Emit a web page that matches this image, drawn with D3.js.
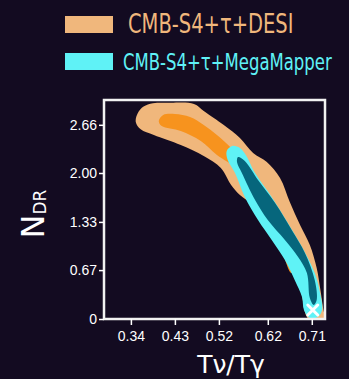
<!DOCTYPE html>
<html>
<head>
<meta charset="utf-8">
<script src="https://cdn.jsdelivr.net/npm/d3@7"></script>
<style>
  html, body { margin: 0; padding: 0; background: #130b21; }
  svg { display: block; font-family: 'DejaVu Sans', sans-serif; }
  .axis text { fill: #fff; font-size: 14px; }
  .axis line { stroke: #fff; stroke-width: 1.5; }
  .axis path { display: none; }
</style>
</head>
<body>
<svg id="chart" width="349" height="379"></svg>
<script>
// ------------------------------------------
//  Data
// ------------------------------------------
const xTicks = [0.34, 0.43, 0.52, 0.62, 0.71]
const xTickLabels = ['0.34', '0.43', '0.52', '0.62', '0.71']
const yTicks = [0, 0.67, 1.33, 2.00, 2.66]
const yTickLabels = ['0', '0.67', '1.33', '2.00', '2.66']

const seriesNames = ['CMB-S4+\u03c4+DESI', 'CMB-S4+\u03c4+MegaMapper']

// DESI, 2 sigma region
const desiOuter = [
  [0.350, 2.700], [0.354, 2.820], [0.366, 2.910], [0.385, 2.955], [0.420, 2.962],
  [0.469, 2.946], [0.489, 2.850], [0.530, 2.658], [0.563, 2.480], [0.590, 2.274],
  [0.618, 2.151], [0.645, 1.932], [0.665, 1.603], [0.686, 1.288], [0.706, 1.014],
  [0.720, 0.699], [0.727, 0.425], [0.733, 0.151], [0.737, -0.05], [0.716, -0.08],
  [0.700, 0.027], [0.694, 0.151], [0.690, 0.329], [0.680, 0.562], [0.665, 0.740],
  [0.645, 0.973], [0.630, 1.151], [0.610, 1.384], [0.590, 1.562], [0.563, 1.699],
  [0.545, 1.836], [0.524, 2.069], [0.489, 2.233], [0.442, 2.384], [0.387, 2.521],
  [0.360, 2.600]
]
// DESI, 1 sigma region
const desiInner = [
  [0.397, 2.713], [0.406, 2.795], [0.430, 2.809], [0.461, 2.767], [0.489, 2.658],
  [0.516, 2.521], [0.545, 2.343], [0.573, 2.110], [0.604, 1.767], [0.635, 1.425],
  [0.661, 1.014], [0.677, 0.671], [0.668, 0.630], [0.651, 0.890], [0.634, 1.150],
  [0.612, 1.440], [0.585, 1.760], [0.556, 2.060], [0.516, 2.247], [0.483, 2.439],
  [0.442, 2.576], [0.403, 2.644]
]
// MegaMapper, 2 sigma region
const mmOuter = [
  [0.547, 2.370], [0.563, 2.343], [0.575, 2.247], [0.594, 2.000], [0.628, 1.671],
  [0.661, 1.315], [0.690, 0.986], [0.716, 0.630], [0.727, 0.356], [0.731, 0.123],
  [0.722, 0.027], [0.706, 0.014], [0.694, 0.123], [0.690, 0.301], [0.675, 0.534],
  [0.655, 0.808], [0.628, 1.082], [0.600, 1.356], [0.573, 1.671], [0.553, 2.000],
  [0.538, 2.178], [0.536, 2.302]
]
// MegaMapper, 1 sigma region
const mmInner = [
  [0.559, 2.219], [0.573, 2.165], [0.600, 1.904], [0.635, 1.589], [0.669, 1.219],
  [0.696, 0.904], [0.716, 0.534], [0.720, 0.260], [0.714, 0.192], [0.706, 0.288],
  [0.700, 0.630], [0.682, 0.849], [0.655, 1.082], [0.620, 1.356], [0.594, 1.630],
  [0.567, 2.000], [0.557, 2.151]
]
// fiducial point
const fiducial = [[0.712, 0.123]]

// ------------------------------------------
//  Chart
// ------------------------------------------
const colors = {
  desiOuter: '#f0b77c', desiInner: '#f7931e',
  mmOuter: '#5ff2f6', mmInner: '#06667c'
}

function drawChart() {
  const svg = d3.select('#chart')
  const margin = { top: 100, left: 104 }
  const width = 221, height = 219
  const g = svg.append('g').attr('transform', `translate(${margin.left},${margin.top})`)

  const x = d3.scaleLinear().domain([0.285, 0.737]).range([0, width])
  const y = d3.scaleLinear().domain([0, 3]).range([height, 0])

  g.append('clipPath').attr('id', 'clip')
    .append('rect').attr('width', width).attr('height', height)

  const line = d3.line()
    .x(d => x(d[0])).y(d => y(d[1]))
    .curve(d3.curveCatmullRomClosed.alpha(0.5))

  const area = g.append('g').attr('clip-path', 'url(#clip)')
  const regions = [
    [desiOuter, colors.desiOuter], [desiInner, colors.desiInner],
    [mmOuter, colors.mmOuter], [mmInner, colors.mmInner]
  ]
  area.selectAll('path.region')
    .data(regions)
    .enter().append('path')
    .attr('class', 'region')
    .attr('d', d => line(d[0]))
    .attr('fill', d => d[1])

  // white cross for the fiducial
  const s = 5
  area.selectAll('.cross')
    .data(fiducial)
    .enter().append('path')
    .attr('class', 'cross')
    .attr('d', d => {
      const cx = x(d[0]), cy = y(d[1])
      return `M${cx - s},${cy - s}L${cx + s},${cy + s}M${cx - s},${cy + s}L${cx + s},${cy - s}`
    })
    .attr('stroke', '#fff').attr('stroke-width', 3).attr('stroke-linecap', 'round')

  g.append('rect')
    .attr('width', width).attr('height', height)
    .attr('fill', 'none').attr('stroke', '#f2f2f2').attr('stroke-width', 2.5)

  g.append('g').attr('class', 'axis')
    .attr('transform', `translate(0,${height})`)
    .call(d3.axisBottom(x).tickValues(xTicks).tickSize(6).tickPadding(6)
      .tickFormat((d, i) => xTickLabels[i]))

  g.append('g').attr('class', 'axis')
    .call(d3.axisLeft(y).tickValues(yTicks).tickSize(5).tickPadding(2)
      .tickFormat((d, i) => yTickLabels[i]))

  // axis titles
  svg.append('text')
    .attr('x', 231).attr('y', 373)
    .attr('text-anchor', 'middle')
    .attr('fill', '#fff').style('font-size', '25px')
    .text('T\u03bd/T\u03b3')

  const yt = svg.append('text')
    .attr('transform', 'translate(44,214) rotate(-90)')
    .attr('text-anchor', 'middle')
    .attr('fill', '#fff')
  yt.append('tspan').style('font-size', '32px').text('N')
  yt.append('tspan').style('font-size', '17px').attr('dy', 2).text('DR')

  // legend
  const legend = svg.append('g')
  const legendColors = [colors.desiOuter, colors.mmOuter]
  const rows = legend.selectAll('g')
    .data(seriesNames)
    .enter().append('g')
    .attr('transform', (d, i) => `translate(65,${16 + i * 37})`)
  rows.append('rect')
    .attr('width', 48).attr('height', 17)
    .attr('fill', (d, i) => legendColors[i])
  rows.append('text')
    .attr('transform', (d, i) => `translate(${i === 0 ? 63 : 58},17) scale(1,1.35)`)
    .attr('fill', (d, i) => legendColors[i])
    .style('font-size', (d, i) => i === 0 ? '19.5px' : '16.5px')
    .text(d => d)
}

drawChart()
</script>
</body>
</html>
